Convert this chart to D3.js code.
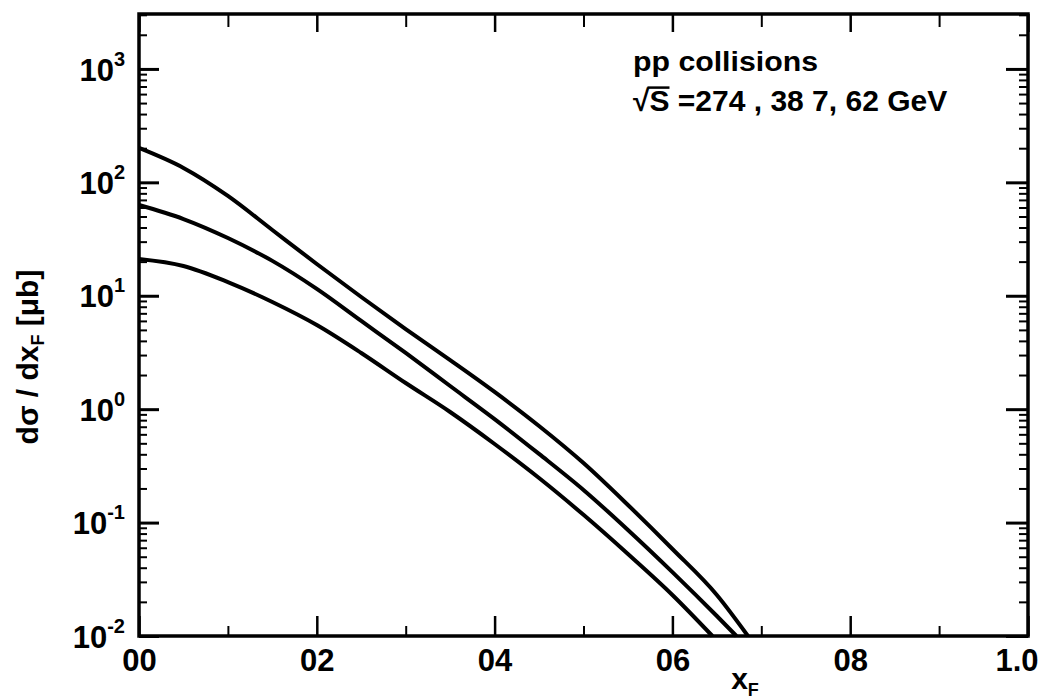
<!DOCTYPE html>
<html>
<head>
<meta charset="utf-8">
<script src="https://cdn.jsdelivr.net/npm/d3@7"></script>
<style>
  body { margin: 0; background: #fff; }
  svg { display: block; }
  text { font-family: "Liberation Sans", Arial, sans-serif; font-weight: bold; fill: #000; }
</style>
</head>
<body>
<svg id="chart" width="1041" height="699"></svg>
<script>
// Feynman-x distributions dσ/dx_F (μb) for pp collisions at three ISR energies.

// √s = 62 GeV (upper curve)
const xF62 = [0, 0.05, 0.10, 0.15, 0.20, 0.25, 0.30, 0.35, 0.40, 0.45, 0.50, 0.55, 0.60, 0.65, 0.685];
const sigma62 = [201, 134, 75.9, 38.0, 19.05, 9.75, 5.09, 2.71, 1.42, 0.711, 0.335, 0.143, 0.0585, 0.0230, 0.010];

// √s = 38.7 GeV (middle curve)
const xF387 = [0, 0.05, 0.10, 0.15, 0.20, 0.25, 0.30, 0.35, 0.40, 0.45, 0.50, 0.55, 0.60, 0.65, 0.672];
const sigma387 = [63.1, 47.5, 32.3, 20.3, 11.5, 6.00, 3.13, 1.60, 0.818, 0.403, 0.194, 0.0861, 0.0366, 0.0150, 0.010];

// √s = 27.4 GeV (lower curve)
const xF274 = [0, 0.05, 0.10, 0.15, 0.20, 0.25, 0.30, 0.35, 0.40, 0.45, 0.50, 0.55, 0.60, 0.645];
const sigma274 = [21.1, 18.3, 13.2, 8.81, 5.52, 3.13, 1.70, 0.944, 0.493, 0.247, 0.117, 0.0528, 0.0230, 0.010];

// Axis ticks and labels
const xMajorTicks = [0, 0.2, 0.4, 0.6, 0.8, 1.0];
const xMinorTicks = [0.1, 0.3, 0.5, 0.7, 0.9];
const xTickLabels = ["00", "02", "04", "06", "08", "1.0"];
const yDecades = [0.01, 0.1, 1, 10, 100, 1000];
const yExponents = ["-2", "-1", "0", "1", "2", "3"];

const annotationLines = ["pp  collisions", "=274 , 38 7,  62 GeV"];

const svg = d3.select("#chart");
const frame = { left: 139, right: 1028, top: 14, bottom: 636 };

const x = d3.scaleLinear().domain([0, 1]).range([frame.left, frame.right]);
const y = d3.scaleLog().domain([0.01, 3050]).range([frame.bottom, frame.top]);

// ---- axes: ticks point into the frame on all four sides ----
const minorY = y.ticks().filter(v => !yDecades.some(d => Math.abs(d - v) / d < 1e-9));

function styleAxis(g, width) {
  g.select(".domain").remove();
  g.selectAll(".tick line").attr("stroke", "#000").attr("stroke-width", width);
}

// bottom
svg.append("g").attr("transform", `translate(0,${frame.bottom})`)
  .call(d3.axisBottom(x).tickValues(xMinorTicks).tickSize(-10).tickFormat(""))
  .call(g => styleAxis(g, 2));
svg.append("g").attr("transform", `translate(0,${frame.bottom})`)
  .call(d3.axisBottom(x).tickValues(xMajorTicks).tickSize(-20).tickPadding(13)
    .tickFormat((d, i) => xTickLabels[i]))
  .call(g => styleAxis(g, 2.5))
  .call(g => g.selectAll(".tick text").attr("font-size", 31).attr("fill", "#000")
    .style("font-family", '"Liberation Sans", Arial, sans-serif').style("font-weight", "bold"))
  .call(g => g.selectAll(".tick text").filter(d => d === 1)
    .attr("text-anchor", "end").attr("dx", 10));

// top
svg.append("g").attr("transform", `translate(0,${frame.top})`)
  .call(d3.axisTop(x).tickValues(xMinorTicks).tickSize(-13).tickFormat(""))
  .call(g => styleAxis(g, 2));
svg.append("g").attr("transform", `translate(0,${frame.top})`)
  .call(d3.axisTop(x).tickValues(xMajorTicks).tickSize(-18).tickFormat(""))
  .call(g => styleAxis(g, 2.5));

// left
svg.append("g").attr("transform", `translate(${frame.left},0)`)
  .call(d3.axisLeft(y).tickValues(minorY).tickSize(-8).tickFormat(""))
  .call(g => styleAxis(g, 2));
const leftMajor = svg.append("g").attr("transform", `translate(${frame.left},0)`)
  .call(d3.axisLeft(y).tickValues(yDecades).tickSize(-20).tickFormat(""))
  .call(g => styleAxis(g, 3));

// decade labels 10^n
leftMajor.selectAll(".tick").each(function (d, i) {
  const t = d3.select(this).append("text")
    .attr("x", -14).attr("y", 0).attr("text-anchor", "end")
    .attr("font-size", 31);
  t.append("tspan").attr("dy", "0.36em").text("10");
  t.append("tspan").attr("font-size", 20).attr("dy", "-0.75em").text(yExponents[i]);
});

// right
svg.append("g").attr("transform", `translate(${frame.right},0)`)
  .call(d3.axisRight(y).tickValues(minorY).tickSize(-9).tickFormat(""))
  .call(g => styleAxis(g, 2));
svg.append("g").attr("transform", `translate(${frame.right},0)`)
  .call(d3.axisRight(y).tickValues(yDecades).tickSize(-22).tickFormat(""))
  .call(g => styleAxis(g, 3));

// frame
svg.append("rect")
  .attr("x", x(0)).attr("y", y(3050))
  .attr("width", x(1) - x(0)).attr("height", y(0.01) - y(3050))
  .attr("fill", "none").attr("stroke", "#000").attr("stroke-width", 3.5);

// ---- curves ----
const line = d3.line()
  .x(d => x(d[0]))
  .y(d => y(d[1]))
  .curve(d3.curveMonotoneX);

const series = [
  d3.zip(xF62, sigma62),
  d3.zip(xF387, sigma387),
  d3.zip(xF274, sigma274)
];

svg.append("g").selectAll("path").data(series).join("path")
  .attr("d", line)
  .attr("fill", "none")
  .attr("stroke", "#000")
  .attr("stroke-width", 4)
  .attr("stroke-linejoin", "round")
  .attr("stroke-linecap", "butt");

// ---- annotation ----
svg.append("text").attr("x", 633).attr("y", 71)
  .attr("font-size", 28).attr("textLength", 185).attr("lengthAdjust", "spacingAndGlyphs")
  .text(annotationLines[0]);

const l2size = 30, l2base = 111;
const l2 = svg.append("text").attr("x", 633).attr("y", l2base).attr("font-size", l2size);
l2.append("tspan").text("√S");
l2.append("tspan").text(" " + annotationLines[1]);

// vinculum of the square root, spanning the S
const sBox = l2.node().getExtentOfChar(1);
const rootBox = l2.node().getExtentOfChar(0);
svg.append("line")
  .attr("x1", rootBox.x + rootBox.width - 2).attr("x2", sBox.x + sBox.width)
  .attr("y1", l2base - 0.78 * l2size).attr("y2", l2base - 0.78 * l2size)
  .attr("stroke", "#000").attr("stroke-width", 2.5);

// ---- axis titles ----
const yt = svg.append("text")
  .attr("transform", "translate(38,357) rotate(-90)")
  .attr("text-anchor", "middle").attr("font-size", 30);
yt.append("tspan").text("dσ / dx");
yt.append("tspan").attr("font-size", 18).attr("dy", 6).text("F");
yt.append("tspan").attr("dy", -6).text(" [μb]");

const xt = svg.append("text")
  .attr("x", 745).attr("y", 689).attr("text-anchor", "middle").attr("font-size", 30);
xt.append("tspan").text("x");
xt.append("tspan").attr("font-size", 18).attr("dy", 7).text("F");
</script>
</body>
</html>
